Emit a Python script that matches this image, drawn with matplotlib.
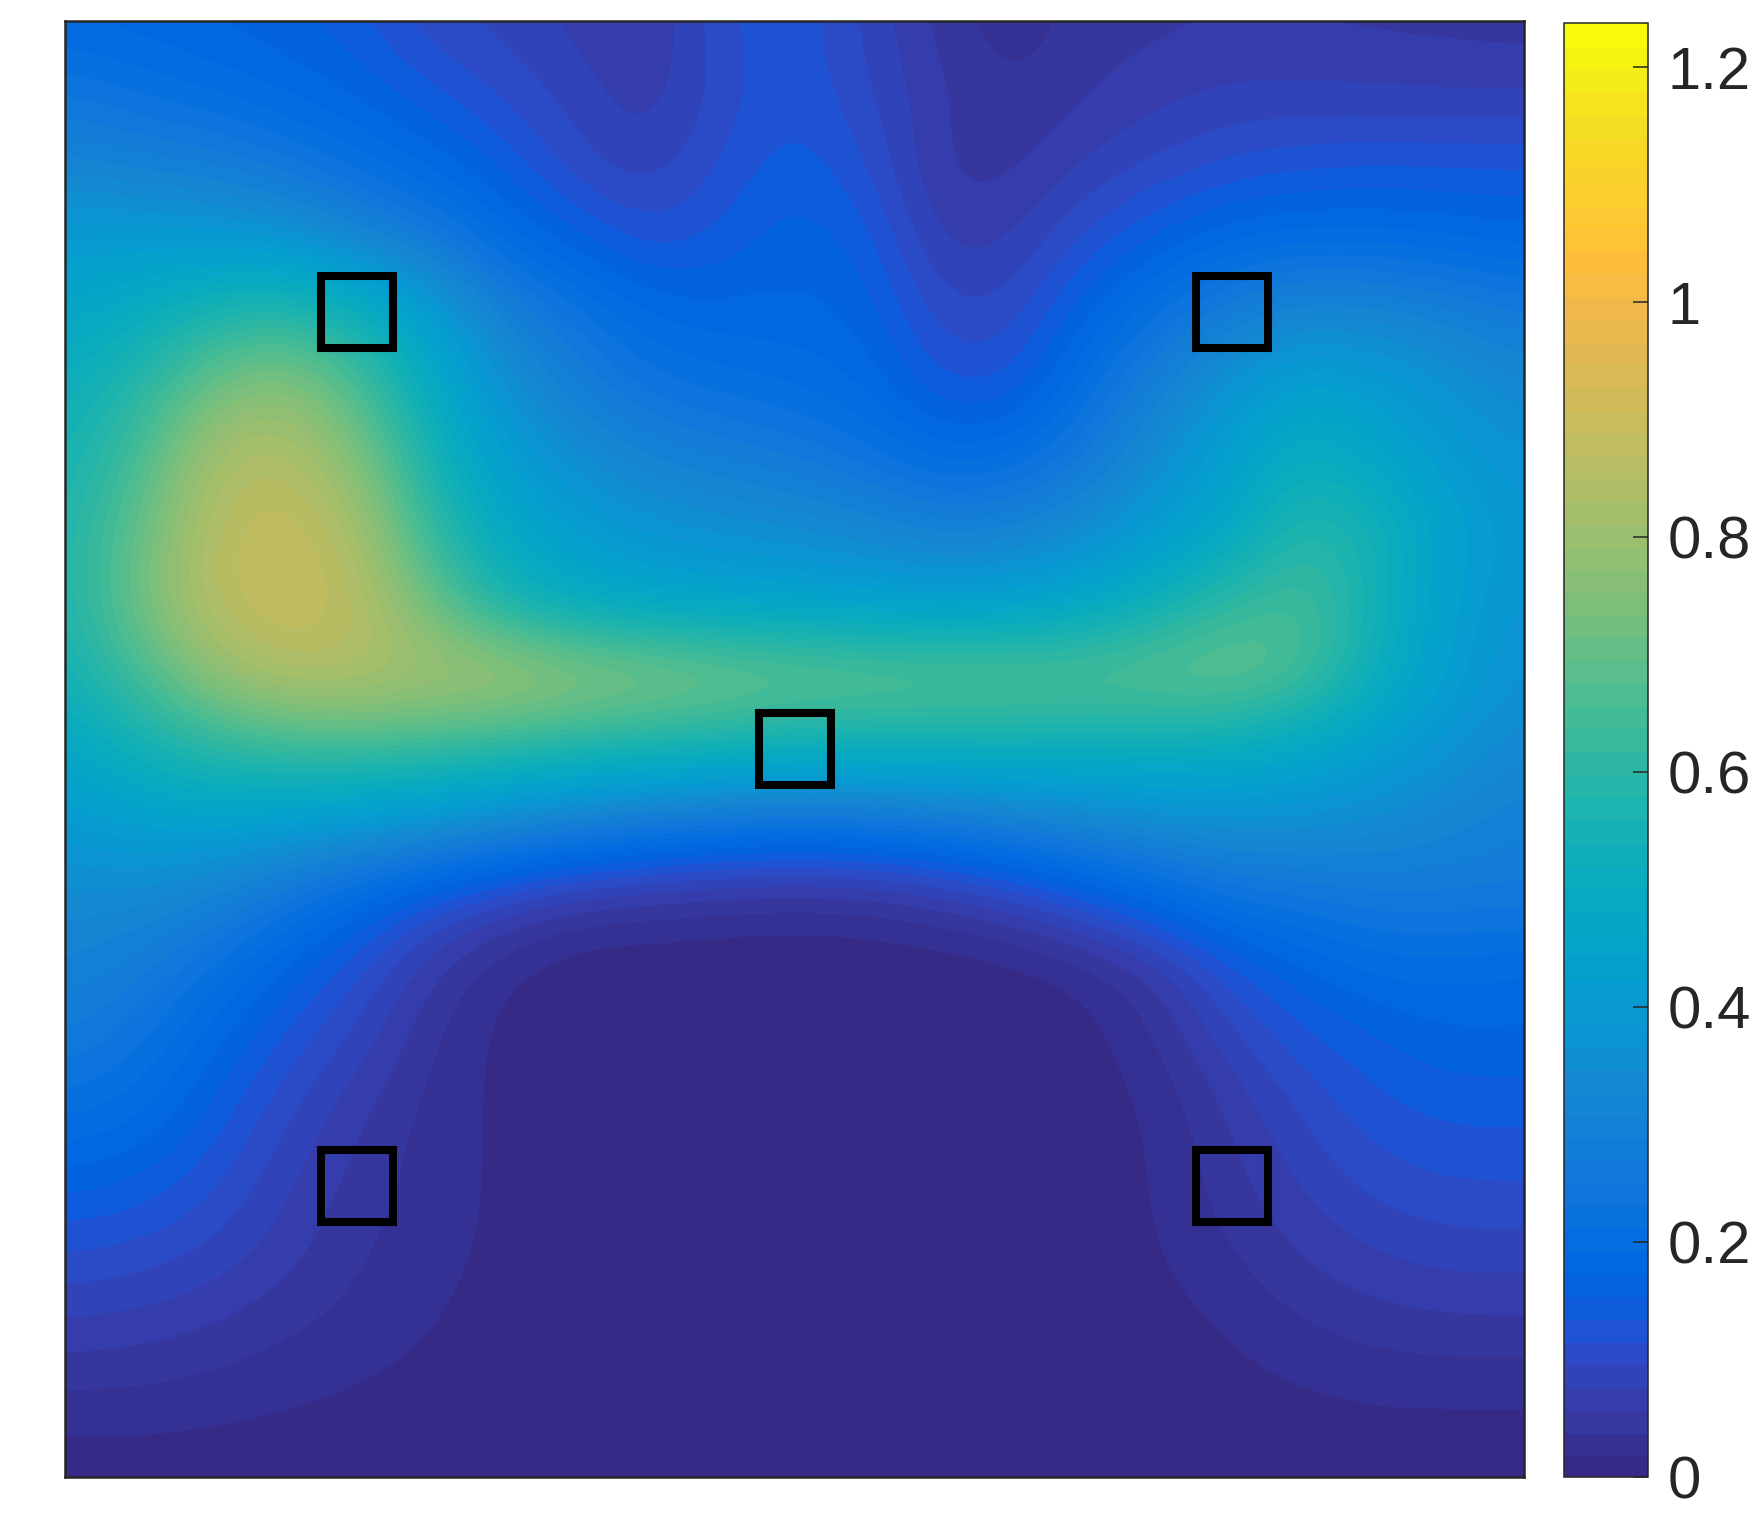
import matplotlib
matplotlib.use("Agg")
from matplotlib import pyplot as plt
from matplotlib.colors import ListedColormap, BoundaryNorm
import numpy as np

plt.rcParams["font.family"] = ["Liberation Sans", "DejaVu Sans"]

# values, top row is y=1, bottom row is y=0, step 0.05
field = [
    [.19, .18, .17, .16, .14, .10, .09, .07, .05, .115, .135, .09, .05, .02, .05, .052, .058, .055, .052, .05, .048],
    [.25, .23, .21, .19, .17, .14, .11, .09, .06, .105, .135, .10, .06, .04, .055, .07, .08, .08, .078, .075, .074],
    [.32, .30, .29, .26, .22, .19, .15, .10, .08, .12, .15, .12, .05, .05, .08, .10, .12, .13, .135, .135, .135],
    [.41, .41, .40, .38, .32, .27, .20, .16, .12, .14, .17, .15, .065, .075, .12, .16, .19, .20, .20, .19, .18],
    [.47, .50, .57, .60, .54, .42, .30, .24, .19, .18, .18, .17, .10, .10, .17, .23, .29, .33, .32, .30, .27],
    [.52, .59, .72, .78, .67, .50, .36, .29, .24, .22, .21, .19, .13, .13, .22, .30, .38, .44, .41, .37, .33],
    [.55, .65, .83, .86, .76, .56, .42, .35, .31, .29, .27, .24, .20, .21, .27, .35, .44, .52, .47, .40, .37],
    [.57, .70, .86, .90, .84, .62, .48, .42, .38, .36, .35, .33, .30, .31, .35, .41, .48, .60, .55, .44, .39],
    [.57, .72, .87, .90, .87, .72, .56, .49, .46, .45, .44, .43, .42, .43, .47, .54, .62, .66, .54, .42, .38],
    [.54, .65, .78, .85, .85, .83, .84, .80, .78, .75, .73, .72, .71, .71, .70, .71, .72, .66, .52, .42, .36],
    [.47, .54, .60, .63, .64, .63, .60, .58, .56, .55, .53, .53, .53, .53, .52, .52, .50, .47, .42, .37, .33],
    [.40, .43, .44, .42, .40, .37, .33, .29, .26, .24, .23, .24, .26, .29, .32, .35, .36, .36, .34, .32, .29],
    [.34, .34, .31, .25, .19, .13, .09, .06, .05, .04, .036, .04, .06, .09, .14, .19, .24, .25, .27, .27, .27],
    [.31, .28, .23, .17, .12, .06, .02, .0, .0, .0, .0, .0, .0, .005, .02, .06, .13, .17, .20, .20, .19],
    [.27, .24, .18, .13, .09, .04, .01, .005, .005, .005, .005, .005, .005, .005, .01, .035, .09, .13, .15, .17, .17],
    [.22, .20, .15, .10, .06, .03, .015, .005, .005, .005, .005, .005, .005, .005, .005, .022, .06, .10, .13, .14, .14],
    [.16, .15, .12, .08, .05, .03, .015, .005, .005, .005, .005, .005, .005, .005, .005, .02, .05, .08, .105, .115, .115],
    [.113, .105, .09, .065, .04, .025, .015, .005, .005, .005, .005, .005, .005, .005, .005, .018, .035, .06, .075, .085, .085],
    [.07, .065, .055, .04, .03, .02, .01, .005, .005, .005, .005, .005, .005, .005, .005, .01, .02, .035, .045, .05, .05],
    [.03, .03, .025, .02, .015, .01, .005, .005, .005, .005, .005, .005, .005, .005, .005, .005, .01, .014, .018, .018, .018],
    [.005, .005, .005, .005, .005, .005, .005, .005, .005, .005, .005, .005, .005, .005, .005, .005, .005, .005, .005, .005, .005],
]
marker_x = [0.2, 0.8, 0.5, 0.2, 0.8]
marker_y = [0.8, 0.8, 0.5, 0.2, 0.2]
cbar_ticks = [0, 0.2, 0.4, 0.6, 0.8, 1, 1.2]
cbar_labels = ["0", "0.2", "0.4", "0.6", "0.8", "1", "1.2"]
vmax = 1.2375

# parula, 64 colours
parula = [
    [0.2081, 0.1663, 0.5292], [0.2116, 0.1898, 0.5777], [0.2123, 0.2138, 0.6270], [0.2081, 0.2386, 0.6771],
    [0.1959, 0.2645, 0.7279], [0.1707, 0.2919, 0.7792], [0.1253, 0.3242, 0.8303], [0.0591, 0.3598, 0.8683],
    [0.0117, 0.3875, 0.8820], [0.0060, 0.4086, 0.8828], [0.0165, 0.4266, 0.8786], [0.0329, 0.4430, 0.8720],
    [0.0498, 0.4586, 0.8641], [0.0629, 0.4737, 0.8554], [0.0723, 0.4887, 0.8467], [0.0779, 0.5040, 0.8384],
    [0.0793, 0.5200, 0.8312], [0.0749, 0.5375, 0.8263], [0.0641, 0.5570, 0.8240], [0.0488, 0.5772, 0.8228],
    [0.0343, 0.5966, 0.8199], [0.0265, 0.6137, 0.8135], [0.0239, 0.6287, 0.8038], [0.0231, 0.6418, 0.7913],
    [0.0228, 0.6535, 0.7768], [0.0267, 0.6642, 0.7607], [0.0384, 0.6743, 0.7436], [0.0590, 0.6838, 0.7254],
    [0.0843, 0.6928, 0.7062], [0.1133, 0.7015, 0.6859], [0.1453, 0.7098, 0.6646], [0.1801, 0.7177, 0.6424],
    [0.2178, 0.7250, 0.6193], [0.2586, 0.7317, 0.5954], [0.3022, 0.7376, 0.5712], [0.3482, 0.7424, 0.5473],
    [0.3953, 0.7459, 0.5244], [0.4420, 0.7481, 0.5033], [0.4871, 0.7491, 0.4840], [0.5300, 0.7491, 0.4661],
    [0.5709, 0.7485, 0.4494], [0.6099, 0.7473, 0.4337], [0.6473, 0.7456, 0.4188], [0.6834, 0.7435, 0.4044],
    [0.7184, 0.7411, 0.3905], [0.7525, 0.7384, 0.3768], [0.7858, 0.7356, 0.3633], [0.8185, 0.7327, 0.3498],
    [0.8507, 0.7299, 0.3360], [0.8824, 0.7274, 0.3217], [0.9139, 0.7258, 0.3063], [0.9450, 0.7261, 0.2886],
    [0.9739, 0.7314, 0.2666], [0.9938, 0.7455, 0.2403], [0.9990, 0.7653, 0.2164], [0.9955, 0.7861, 0.1967],
    [0.9880, 0.8066, 0.1794], [0.9789, 0.8271, 0.1633], [0.9697, 0.8481, 0.1475], [0.9626, 0.8705, 0.1309],
    [0.9589, 0.8949, 0.1132], [0.9598, 0.9218, 0.0948], [0.9661, 0.9514, 0.0755], [0.9763, 0.9831, 0.0538],
]
cmap = ListedColormap(parula)
norm = BoundaryNorm(np.linspace(0, vmax, 65), 64)

W, H = 1754, 1535
fig = plt.figure(figsize=(W / 100, H / 100), dpi=100)
ax = fig.add_axes([65 / W, 1 - 1477 / H, (1524 - 65) / W, (1477 - 21) / H])
cax = fig.add_axes([1564 / W, 1 - 1477 / H, (1648 - 1564) / W, (1477 - 23) / H])

half = 0.025
im = ax.imshow(field, extent=(-half, 1 + half, -half, 1 + half), origin="upper", cmap=cmap, norm=norm,
               interpolation="bicubic", interpolation_stage="data", aspect="auto")
ax.plot(marker_x, marker_y, ls="none", marker="s", ms=51.5, mfc="none", mec="black", mew=5.8)
ax.set_xlim(0, 1)
ax.set_ylim(0, 1)
ax.set_xticks([])
ax.set_yticks([])
for s in ax.spines.values():
    s.set_color("#262626")
    s.set_linewidth(1.8)

cb = fig.colorbar(im, cax=cax, spacing="proportional", ticks=cbar_ticks)
cb.ax.set_yticklabels(cbar_labels)
cb.ax.tick_params(direction="in", length=10.8, width=1.1, color="#262626", labelcolor="#262626",
                  labelsize=43, pad=14, which="major")
cb.ax.minorticks_off()
cb.outline.set_edgecolor("#262626")
cb.outline.set_linewidth(1.1)
cb.solids.set_edgecolor("face")

fig.savefig("out.png", dpi=100)
